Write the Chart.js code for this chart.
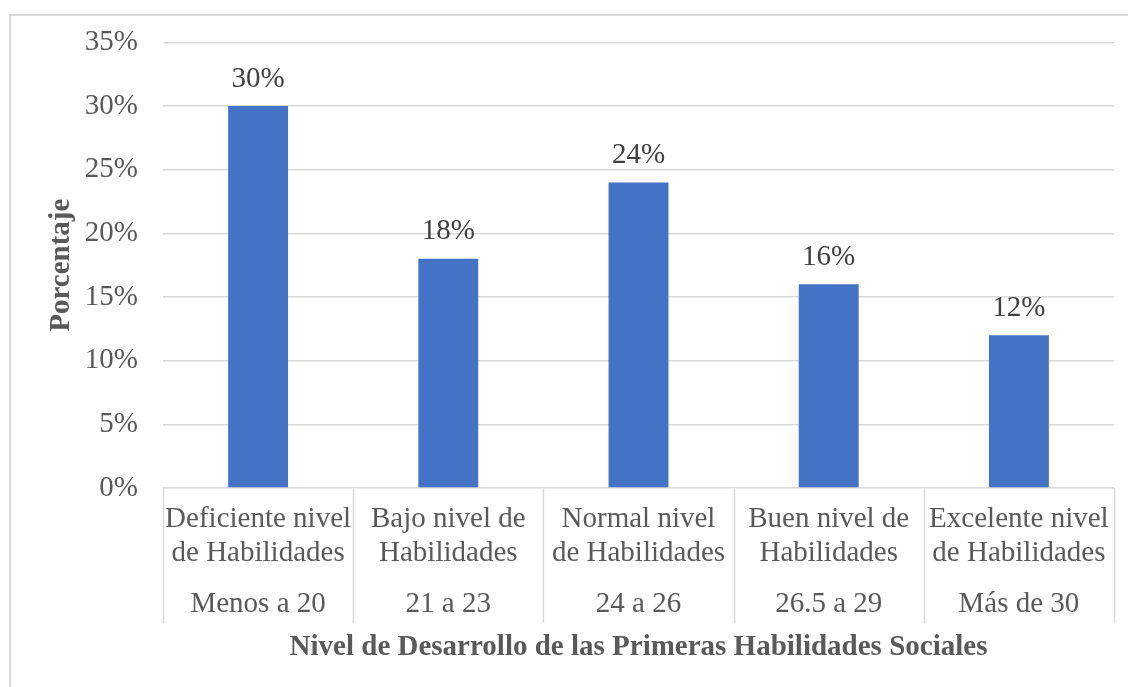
<!DOCTYPE html>
<html>
<head>
<meta charset="utf-8">
<script src="https://cdn.jsdelivr.net/npm/chart.js@4.4.1/dist/chart.umd.min.js"></script>
<style>
  body { margin: 0; background: #fff; }
  #wrap { position: relative; width: 1128px; height: 687px; overflow: hidden; }
  #marco { position: absolute; left: 9px; top: 14px; width: 1300px; height: 800px;
           border-left: 2px solid #d9d9d9; border-top: 2px solid #d9d9d9; pointer-events: none; }
  canvas { position: absolute; left: 0; top: 0; }
</style>
</head>
<body>
<div id="wrap">
  <canvas id="mycanvas" width="1128" height="687"></canvas>
  <div id="marco"></div>
</div>
<script>
// datos
var categorias = [
	["Deficiente nivel", "de Habilidades"],
	["Bajo nivel de", "Habilidades"],
	["Normal nivel", "de Habilidades"],
	["Buen nivel de", "Habilidades"],
	["Excelente nivel", "de Habilidades"]
];
var rangos = ["Menos a 20", "21 a 23", "24 a 26", "26.5 a 29", "Más de 30"];
var porcentajes = [30, 18, 24, 16, 12];
var ticksY = [0, 5, 10, 15, 20, 25, 30, 35];

var fuente = "'Liberation Serif', 'Times New Roman', serif";
var gris = "#595959";
var lineaGris = "#d9d9d9";

// etiquetas encima de las barras y lineas separadoras
var extras = {
	id: "extras",
	afterDatasetsDraw: function(chart) {
		var ctx = chart.ctx;
		var meta = chart.getDatasetMeta(0);
		ctx.save();
		ctx.font = "29px " + fuente;
		ctx.fillStyle = "#404040";
		ctx.textAlign = "center";
		ctx.textBaseline = "middle";
		meta.data.forEach(function(bar, i) {
			ctx.fillText(porcentajes[i] + "%", bar.x, bar.y - 27);
		});
		var x = chart.scales.x;
		var x2 = chart.scales.x2;
		var paso = x.getPixelForValue(1) - x.getPixelForValue(0);
		var fin = x2.top + 18 + 35;
		ctx.strokeStyle = lineaGris;
		ctx.lineWidth = 1.5;
		for (var i = 0; i <= porcentajes.length; i++) {
			var px = Math.round(x.getPixelForValue(0) - paso / 2 + paso * i) + 0.5;
			ctx.beginPath();
			ctx.moveTo(px, chart.chartArea.bottom);
			ctx.lineTo(px, fin);
			ctx.stroke();
		}
		ctx.restore();
	}
};

var ctx = document.getElementById("mycanvas");

var grafico = new Chart(ctx, {
	type: "bar",
	data: {
		labels: categorias,
		datasets: [{
			label: "Porcentaje",
			data: porcentajes,
			backgroundColor: "#4472C4",
			borderWidth: 0,
			categoryPercentage: 1,
			barPercentage: 0.315
		}]
	},
	options: {
		responsive: false,
		animation: false,
		layout: { padding: { left: 10, right: 14, top: 38, bottom: 22 } },
		plugins: { legend: { display: false }, tooltip: { enabled: false } },
		scales: {
			y: {
				min: 0,
				max: 35,
				afterBuildTicks: function(axis) {
					axis.ticks = ticksY.map(function(v) { return { value: v }; });
				},
				afterFit: function(axis) { axis.width = 153; },
				ticks: {
					color: gris,
					padding: 25,
					font: { family: fuente, size: 29 },
					callback: function(v) { return v + "%"; }
				},
				grid: { color: lineaGris, lineWidth: 1.5, drawTicks: false },
				border: { display: false },
				title: {
					display: true,
					text: "Porcentaje",
					color: gris,
					font: { family: fuente, size: 29, weight: "bold" },
					padding: { top: 34, bottom: 7 }
				}
			},
			x: {
				afterFit: function(axis) { axis.height = 82; },
				ticks: {
					color: gris,
					padding: 15,
					maxRotation: 0,
					autoSkip: false,
					font: { family: fuente, size: 29, lineHeight: 1.15 }
				},
				grid: { display: false, drawTicks: false },
				border: { display: false }
			},
			x2: {
				type: "category",
				position: "bottom",
				labels: rangos,
				afterFit: function(axis) { axis.height = 95; },
				ticks: {
					color: gris,
					padding: 18,
					maxRotation: 0,
					autoSkip: false,
					font: { family: fuente, size: 29, lineHeight: 1.15 }
				},
				grid: { display: false, drawTicks: false },
				border: { display: false },
				title: {
					display: true,
					text: "Nivel de Desarrollo de las Primeras Habilidades Sociales",
					color: gris,
					font: { family: fuente, size: 29, weight: "bold" },
					padding: { top: 8, bottom: 0 }
				}
			}
		}
	},
	plugins: [extras]
});
</script>
</body>
</html>
